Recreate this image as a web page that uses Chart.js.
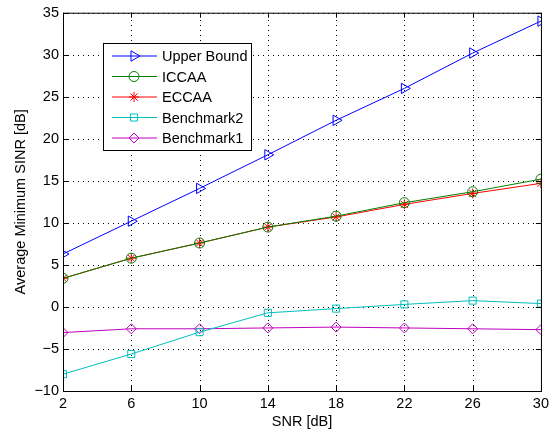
<!DOCTYPE html>
<html>
<head>
<meta charset="utf-8">
<script src="https://cdn.jsdelivr.net/npm/chart.js@4.4.0/dist/chart.umd.min.js"></script>
<style>
    html, body { margin: 0; padding: 0; background: #fff; }
    #wrap { width: 553px; height: 431px; }
</style>
</head>
<body>
<div id="wrap"><canvas id="sinrChart" width="553" height="431"></canvas></div>
<script>
// Data
const snrValues = [2, 6, 10, 14, 18, 22, 26, 30];
const upperBound = [6.3, 10.2, 14.1, 18.1, 22.2, 26.0, 30.2, 34.0];
const iccaa = [3.4, 5.8, 7.6, 9.5, 10.8, 12.4, 13.7, 15.2];
const eccaa = [3.4, 5.8, 7.6, 9.5, 10.7, 12.2, 13.5, 14.7];
const benchmark2 = [-8.0, -5.6, -3.0, -0.7, -0.2, 0.3, 0.75, 0.4];
const benchmark1 = [-3.05, -2.6, -2.6, -2.5, -2.4, -2.5, -2.6, -2.7];
const xTicks = [2, 6, 10, 14, 18, 22, 26, 30];
const yTicks = [-10, -5, 0, 5, 10, 15, 20, 25, 30, 35];

const FONT = 'Liberation Sans, Arial, Helvetica, sans-serif';
const FSIZE = 14.5;

function series(label, values, color, style, radius, rotation) {
    return {
        label: label,
        data: snrValues.map((x, i) => ({ x: x, y: values[i] })),
        borderColor: color,
        backgroundColor: 'rgba(0,0,0,0)',
        borderWidth: 1,
        pointStyle: style,
        pointRadius: radius,
        pointRotation: rotation || 0,
        pointBorderColor: color,
        pointBackgroundColor: 'rgba(0,0,0,0)',
        pointBorderWidth: 1,
        tension: 0
    };
}

// Dotted grid lines at the tick positions
const dottedGrid = {
    id: 'dottedGrid',
    beforeDatasetsDraw(chart) {
        const { ctx, chartArea: a, scales } = chart;
        ctx.save();
        ctx.strokeStyle = '#000';
        ctx.lineWidth = 1;
        ctx.setLineDash([1, 4]);
        ctx.beginPath();
        xTicks.forEach(v => {
            const px = Math.round(scales.x.getPixelForValue(v)) + 0.5;
            ctx.moveTo(px, a.bottom); ctx.lineTo(px, a.top);
        });
        yTicks.forEach(v => {
            const py = Math.round(scales.y.getPixelForValue(v)) + 0.5;
            ctx.moveTo(a.left, py); ctx.lineTo(a.right, py);
        });
        ctx.stroke();
        ctx.restore();
    }
};

// Box around the plot with inward tick marks (matlab look)
const frameBox = {
    id: 'frameBox',
    afterDraw(chart) {
        const { ctx, chartArea: a, scales } = chart;
        ctx.save();
        ctx.strokeStyle = '#000';
        ctx.lineWidth = 1;
        ctx.setLineDash([]);
        ctx.strokeRect(a.left + 0.5, a.top + 0.5, a.right - a.left, a.bottom - a.top);
        ctx.beginPath();
        xTicks.forEach(v => {
            const px = Math.round(scales.x.getPixelForValue(v)) + 0.5;
            ctx.moveTo(px, a.bottom); ctx.lineTo(px, a.bottom - 5);
            ctx.moveTo(px, a.top); ctx.lineTo(px, a.top + 5);
        });
        yTicks.forEach(v => {
            const py = Math.round(scales.y.getPixelForValue(v)) + 0.5;
            ctx.moveTo(a.left, py); ctx.lineTo(a.left + 5, py);
            ctx.moveTo(a.right, py); ctx.lineTo(a.right - 5, py);
        });
        ctx.stroke();
        ctx.restore();
    }
};

// Legend box drawn inside the axes, like the original
const insideLegend = {
    id: 'insideLegend',
    afterDraw(chart) {
        const ctx = chart.ctx;
        const x0 = 103, y0 = 43, w = 148, h = 107;
        ctx.save();
        ctx.setLineDash([]);
        ctx.fillStyle = '#fff';
        ctx.fillRect(x0, y0, w, h);
        ctx.strokeStyle = '#000';
        ctx.lineWidth = 1;
        ctx.strokeRect(x0 + 0.5, y0 + 0.5, w, h);
        ctx.font = FSIZE + 'px ' + FONT;
        ctx.textBaseline = 'middle';
        chart.data.datasets.forEach((ds, i) => {
            const cy = y0 + 13 + i * 20.5;
            ctx.strokeStyle = ds.borderColor;
            ctx.lineWidth = 1;
            ctx.beginPath();
            ctx.moveTo(x0 + 9, cy);
            ctx.lineTo(x0 + 54, cy);
            ctx.stroke();
            ctx.fillStyle = 'rgba(0,0,0,0)';
            Chart.helpers.drawPoint(ctx, {
                pointStyle: ds.pointStyle,
                radius: ds.pointRadius,
                rotation: ds.pointRotation,
                borderWidth: 1
            }, x0 + 31, cy);
            ctx.fillStyle = '#000';
            ctx.fillText(ds.label, x0 + 59, cy + 1);
        });
        ctx.restore();
    }
};

const ctx = document.getElementById('sinrChart').getContext('2d');
new Chart(ctx, {
    type: 'line',
    data: {
        datasets: [
            series('Upper Bound', upperBound, '#0000ff', 'triangle', 6, 90),
            series('ICCAA', iccaa, '#008000', 'circle', 5),
            series('ECCAA', eccaa, '#ff0000', 'star', 5),
            series('Benchmark2', benchmark2, '#00bfbf', 'rect', 5),
            series('Benchmark1', benchmark1, '#bf00bf', 'rectRot', 5)
        ]
    },
    options: {
        responsive: false,
        animation: false,
        layout: {
            padding: { left: 12, right: 8, top: 12, bottom: 0 }
        },
        scales: {
            x: {
                type: 'linear',
                min: 2,
                max: 30,
                afterBuildTicks: scale => { scale.ticks = xTicks.map(v => ({ value: v })); },
                afterFit: scale => { scale.height = 40; },
                grid: { display: false, drawTicks: false },
                border: { display: false },
                ticks: {
                    color: '#000',
                    padding: 4,
                    font: { family: FONT, size: FSIZE }
                },
                title: {
                    display: true,
                    text: 'SNR [dB]',
                    color: '#000',
                    padding: { top: 0, bottom: 0 },
                    font: { family: FONT, size: FSIZE }
                }
            },
            y: {
                type: 'linear',
                min: -10,
                max: 35,
                afterBuildTicks: scale => { scale.ticks = yTicks.map(v => ({ value: v })); },
                afterFit: scale => { scale.width = 51; },
                grid: { display: false, drawTicks: false },
                border: { display: false },
                ticks: {
                    color: '#000',
                    padding: 4,
                    font: { family: FONT, size: FSIZE },
                    callback: v => (v < 0 ? '\u2212' + Math.abs(v) : String(v))
                },
                title: {
                    display: true,
                    text: 'Average Minimum SINR [dB]',
                    color: '#000',
                    padding: { top: 0, bottom: 0 },
                    font: { family: FONT, size: FSIZE }
                }
            }
        },
        plugins: {
            legend: { display: false },
            tooltip: { enabled: false }
        }
    },
    plugins: [dottedGrid, frameBox, insideLegend]
});
</script>
</body>
</html>
